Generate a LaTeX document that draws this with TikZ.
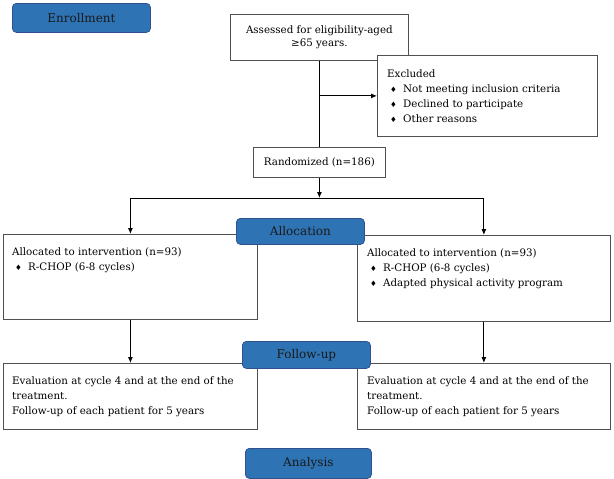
\documentclass[tikz,border=0pt]{standalone}
\usepackage{fontspec}
\setmainfont{DejaVu Serif}
\newfontfamily\symfont{DejaVu Sans}
\usetikzlibrary{arrows.meta}
\definecolor{boxblue}{HTML}{2E74B5}
\definecolor{blueedge}{HTML}{2F528F}
\definecolor{edgegray}{HTML}{505050}
\newcommand{\bul}{\hspace*{3pt}\makebox[13pt][l]{\symfont\fontsize{7.5}{7.5}\selectfont ♦}}
\begin{document}
\begin{tikzpicture}[x=1pt,y=-1pt,
  box/.style={draw=edgegray, line width=0.8pt, fill=white, anchor=north west, inner sep=0pt},
  phase/.style={draw=blueedge, fill=boxblue, rounded corners=4pt, line width=0.8pt,
    font=\fontsize{12}{14}\selectfont, text=black!90, anchor=north west, inner sep=0pt},
  txt/.style={anchor=north west, inner sep=0pt, align=left, font=\fontsize{10.3}{15}\selectfont},
  link/.style={line width=0.9pt, black},
  arr/.style={link, -{Latex[length=6pt,width=5pt]}},
]
\path[use as bounding box, fill=white] (0,0) rectangle (614,479);

% boxes
\node[box, minimum width=178pt, minimum height=46pt, align=center,
  font=\fontsize{10.3}{13}\selectfont] (assess) at (230,14)
  {Assessed for eligibility-aged\\ ≥65 years.};
\node[box, minimum width=220pt, minimum height=81pt] (excl) at (377,55) {};
\node[box, minimum width=132pt, minimum height=30pt, font=\fontsize{10.3}{12}\selectfont] (rand) at (253,147) {Randomized (n=186)};
\node[box, minimum width=254pt, minimum height=85pt] (allocL) at (3,234) {};
\node[box, minimum width=253pt, minimum height=86pt] (allocR) at (357,235) {};
\node[box, minimum width=254pt, minimum height=66pt] (evalL) at (3,363) {};
\node[box, minimum width=253pt, minimum height=66pt] (evalR) at (357,363) {};

% texts
\node[txt] (exclT) at (387,69) {Excluded\\ \bul Not meeting inclusion criteria\\ \bul Declined to participate\\ \bul Other reasons};
\node[txt] (allocLT) at (12,247.5) {Allocated to intervention (n=93)\\ \bul R-CHOP (6-8 cycles)};
\node[txt] (allocRT) at (367,248.5) {Allocated to intervention (n=93)\\ \bul R-CHOP (6-8 cycles)\\ \bul Adapted physical activity program};
\node[txt] (evalLT) at (12,376) {Evaluation at cycle 4 and at the end of the\\ treatment.\\ Follow-up of each patient for 5 years};
\node[txt] (evalRT) at (367,376) {Evaluation at cycle 4 and at the end of the\\ treatment.\\ Follow-up of each patient for 5 years};

% connectors
\coordinate (split) at (assess.south |- excl.west);
\coordinate (bar) at (rand.south |- 0,198);
\coordinate (barL) at (allocL.north |- bar);
\coordinate (barR) at (allocR.north |- bar);
\draw[link] (assess.south) -- (rand.north);
\draw[arr] (split) -- (excl.west);
\draw[arr] (rand.south) -- (bar);
\draw[link] (barL) -- (barR);
\draw[arr] (barL) -- (allocL.north);
\draw[arr] (barR) -- (allocR.north);
\draw[arr] (allocL.south) -- (evalL.north);
\draw[arr] (allocR.south) -- (allocR.south |- evalR.north);

% phase labels
\node[phase, minimum width=138pt, minimum height=29pt] (enroll) at (12,3) {Enrollment};
\node[phase, minimum width=128pt, minimum height=26pt] (alloc) at (236,218) {Allocation};
\node[phase, minimum width=128pt, minimum height=27pt] (follow) at (242,341) {Follow-up};
\node[phase, minimum width=126pt, minimum height=30pt] (analysis) at (245,448) {Analysis};
\end{tikzpicture}
\end{document}
